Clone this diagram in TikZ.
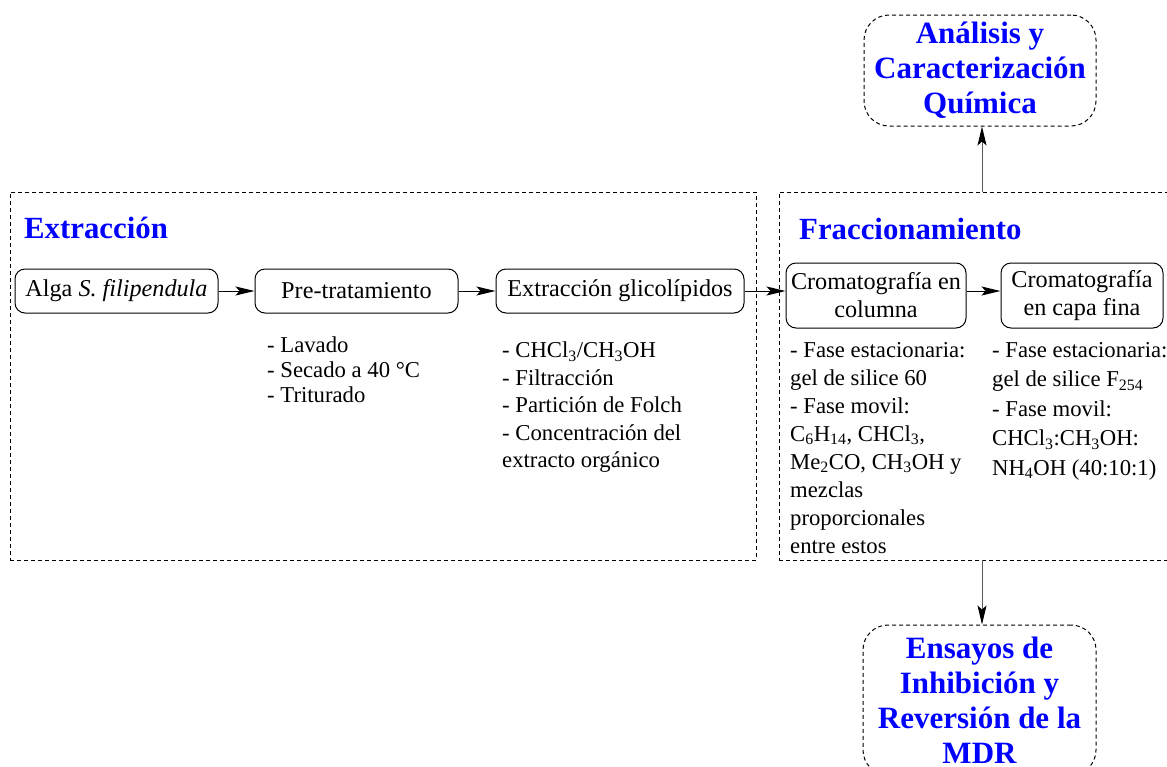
\documentclass[tikz,border=0pt]{standalone}
\usepackage{fontspec}
\setmainfont{Liberation Serif}
\usetikzlibrary{arrows.meta,calc}
\definecolor{titleblue}{RGB}{0,0,255}
\newcommand{\sbs}[1]{\textsubscript{#1}}
\tikzset{
 stepbox/.style={draw, rounded corners=10pt, line width=1pt, inner sep=2pt, font=\fontsize{24.2}{28}\selectfont, align=center},
 framebox/.style={draw, dash pattern=on 4pt off 3pt, line width=1pt, inner sep=0pt},
 goalbox/.style={draw, dash pattern=on 4pt off 3pt, rounded corners=25pt, line width=1pt, text=titleblue, font=\fontsize{31}{35}\selectfont\bfseries, align=center, inner sep=0pt},
 sectitle/.style={text=titleblue, font=\fontsize{30.8}{34}\selectfont\bfseries, anchor=base west, inner sep=0pt},
 steplist/.style={font=\fontsize{22.7}{25}\selectfont, align=left, anchor=north west, inner sep=0pt},
 arr/.style={-{Stealth[length=19pt,width=9pt,inset=4pt]}, line width=1pt},
 varr/.style={-{Stealth[length=19pt,width=9pt,inset=4pt,black]}, line width=1pt, draw=black!65},
}
\begin{document}
\begin{tikzpicture}[x=1pt,y=-1pt]
\useasboundingbox (0,0) rectangle (1167,766);
% frames
\node[framebox, minimum width=746, minimum height=368] (extrframe) at (383,376) {};
\node[framebox, minimum width=396, minimum height=368] (fracframe) at (977,376) {};
\node[sectitle] (t1) at (24,238) {Extracción};
\node[sectitle] (t2) at (799,239) {Fraccionamiento};
% steps
\node[stepbox, minimum width=203, minimum height=44] (alga) at (116.5,291) {Alga \textit{S. filipendula}};
\node[stepbox, minimum width=203, minimum height=44] (pre) at (356.5,291) {Pre-tratamiento};
\node[stepbox, minimum width=248, minimum height=44] (extr) at (620,291) {Extracción glicolípidos};
\node[stepbox, minimum width=180, minimum height=65, inner xsep=0pt] (crcol) at (876,295.5) {Cromatografía en\\columna};
\node[stepbox, minimum width=162, minimum height=65, inner xsep=0pt] (crcap) at (1082,295.5) {Cromatografía\\en capa fina};
% lists
\node[steplist] (l1) at (267,337) {- Lavado\\- Secado a 40 °C\\- Triturado};
\node[steplist, font=\fontsize{22.7}{27.5}\selectfont] (l2) at (502,342) {- CHCl\sbs{3}/CH\sbs{3}OH\\- Filtracción\\- Partición de Folch\\- Concentración del\\extracto orgánico};
\node[steplist, font=\fontsize{22.7}{28}\selectfont] (l3) at (790,342) {- Fase estacionaria:\\gel de silice 60\\- Fase movil:\\C\sbs{6}H\sbs{14}, CHCl\sbs{3},\\Me\sbs{2}CO, CH\sbs{3}OH y\\mezclas\\proporcionales\\entre estos};
\node[steplist, font=\fontsize{22.7}{29.5}\selectfont] (l4) at (992,342) {- Fase estacionaria:\\gel de silice F\sbs{254}\\- Fase movil:\\CHCl\sbs{3}:CH\sbs{3}OH:\\NH\sbs{4}OH (40:10:1)};
% goals
\node[goalbox, minimum width=232, minimum height=111] (analisis) at (980,70.5) {Análisis y\\Caracterización\\Química};
\node[goalbox, minimum width=233, minimum height=150] (ensayos) at (979.5,700) {Ensayos de\\Inhibición y\\Reversión de la\\MDR};
% connectors
\draw[arr] (alga.east) -- (pre.west);
\draw[arr] (pre.east) -- (extr.west);
\draw[arr] (extr.east) -- (extr.east -| crcol.west);
\draw[arr] (crcol.east |- extr.east) -- (crcap.west |- extr.east);
\coordinate (ftop) at (982,192);
\coordinate (fbot) at (982,560);
\draw[varr] (ftop) -- (ftop |- analisis.south);
\draw[varr] (fbot) -- (fbot |- ensayos.north);
\end{tikzpicture}
\end{document}
